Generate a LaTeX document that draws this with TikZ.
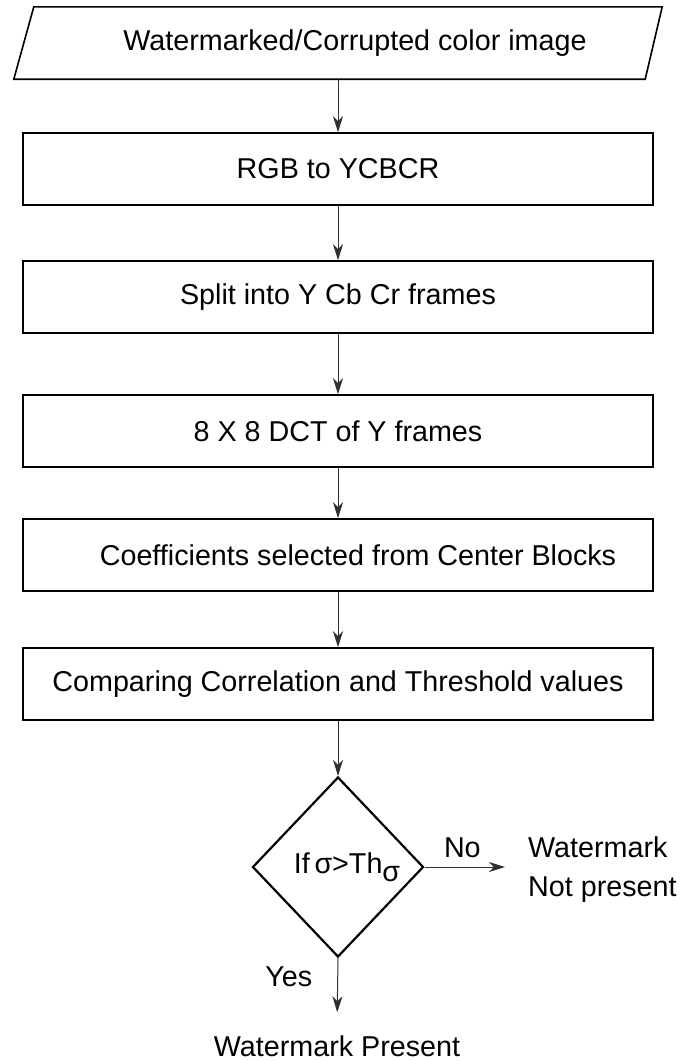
\documentclass[tikz,border=0pt]{standalone}
\usepackage{fontspec}
\setmainfont{Liberation Sans}
\usetikzlibrary{arrows.meta, positioning, shapes.geometric, calc}
\definecolor{LineGray}{HTML}{303030}

\begin{document}
\begin{tikzpicture}[
    x=1pt, y=-1pt,
    font=\fontsize{28.7}{39}\selectfont,
    process/.style={draw=black, line width=1.6pt, minimum width=630pt, minimum height=72pt, inner sep=0pt},
    decision/.style={diamond, draw=black, line width=2.2pt, minimum width=171pt, minimum height=180pt, inner sep=0pt},
    flow/.style={-{Stealth[length=16pt, width=10pt, inset=5pt]}, line width=1pt, LineGray},
    result/.style={inner sep=9pt, align=left},
    tag/.style={inner sep=9pt, text=black}
]
\useasboundingbox (0,0) rectangle (683,1061);

% Input image: parallelogram drawn round a plain node
\node[minimum width=648pt, minimum height=72pt, inner sep=0pt] (img) at (338,43) {\hspace*{34pt}Watermarked/Corrupted color image};
\draw[line width=1.6pt] ([xshift=20pt]img.north west) -- (img.north east) -- ([xshift=-17pt]img.south east) -- (img.south west) -- cycle;

% Processing steps
\node[process] (rgb) at (338,169) {RGB to YCBCR};
\node[process] (split) at (338,297) {Split into Y Cb Cr frames};
\node[process] (dct) at (338,431) {8 X 8 DCT of Y frames};
\node[process] (coef) at (338,555) {\hspace*{40pt}Coefficients selected from Center Blocks};
\node[process] (cmp) at (338,684) {Comparing Correlation and Threshold values};

% Decision
\node[decision] (dec) at (338,867) {\hspace*{18pt}If\,σ>Th\raisebox{-8pt}{σ}};

% Outcomes
\node[result, anchor=west] (notpres) at (519,870) {Watermark\\Not present};
\node[tag] (pres) at (337,1046) {Watermark Present};

% Connectors
\foreach \a/\b in {img/rgb, rgb/split, split/dct, dct/coef, coef/cmp, cmp/dec}
    \draw[flow] (\a) -- (\b);
\draw[flow, shorten >=14pt] (dec.east) -- node[tag, above, pos=0.4] {No} (dec.east -| notpres.west);
\draw[flow, shorten >=14pt] (dec.south) -- node[tag, left=16pt, pos=0.27] {Yes} (pres.north);
\end{tikzpicture}
\end{document}
